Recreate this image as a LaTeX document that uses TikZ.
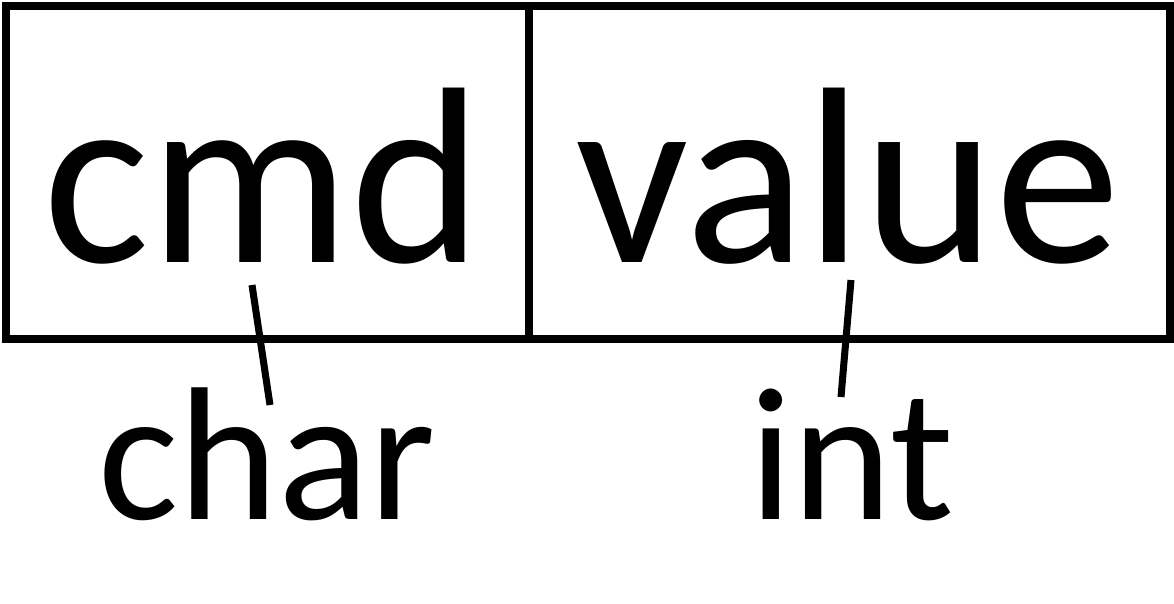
\documentclass[tikz,border=0pt]{standalone}
\usepackage{fontspec}
\setmainfont{Carlito}
\begin{document}
\begin{tikzpicture}[x=0.02cm,y=-0.02cm,
		field/.style={anchor=base,inner sep=0pt,font=\fontsize{143}{143}\selectfont},
		ctype/.style={anchor=base,inner sep=0pt,font=\fontsize{108}{108}\selectfont},
		tie/.style={line width=4pt}]
			\useasboundingbox (0,0) rectangle (1174,603);
			\draw[tie] (6,6) rectangle (1170,339);
			\draw[tie] (529,6) -- (529,339);
			\node[field] (cmd) at (263,262) {cmd};
			\node[field] (value) at (848,262) {value};
			\node[ctype] (char) at (267,519) {char};
			\node[ctype] (int) at (852,519) {int};
			\coordinate (cmdtop) at (252,285);
			\coordinate (chartop) at (270,405);
			\coordinate (valuetop) at (851,280);
			\coordinate (inttop) at (841,397);
			\draw[tie] (cmdtop) -- (chartop);
			\draw[tie] (valuetop) -- (inttop);
		\end{tikzpicture}
\end{document}
